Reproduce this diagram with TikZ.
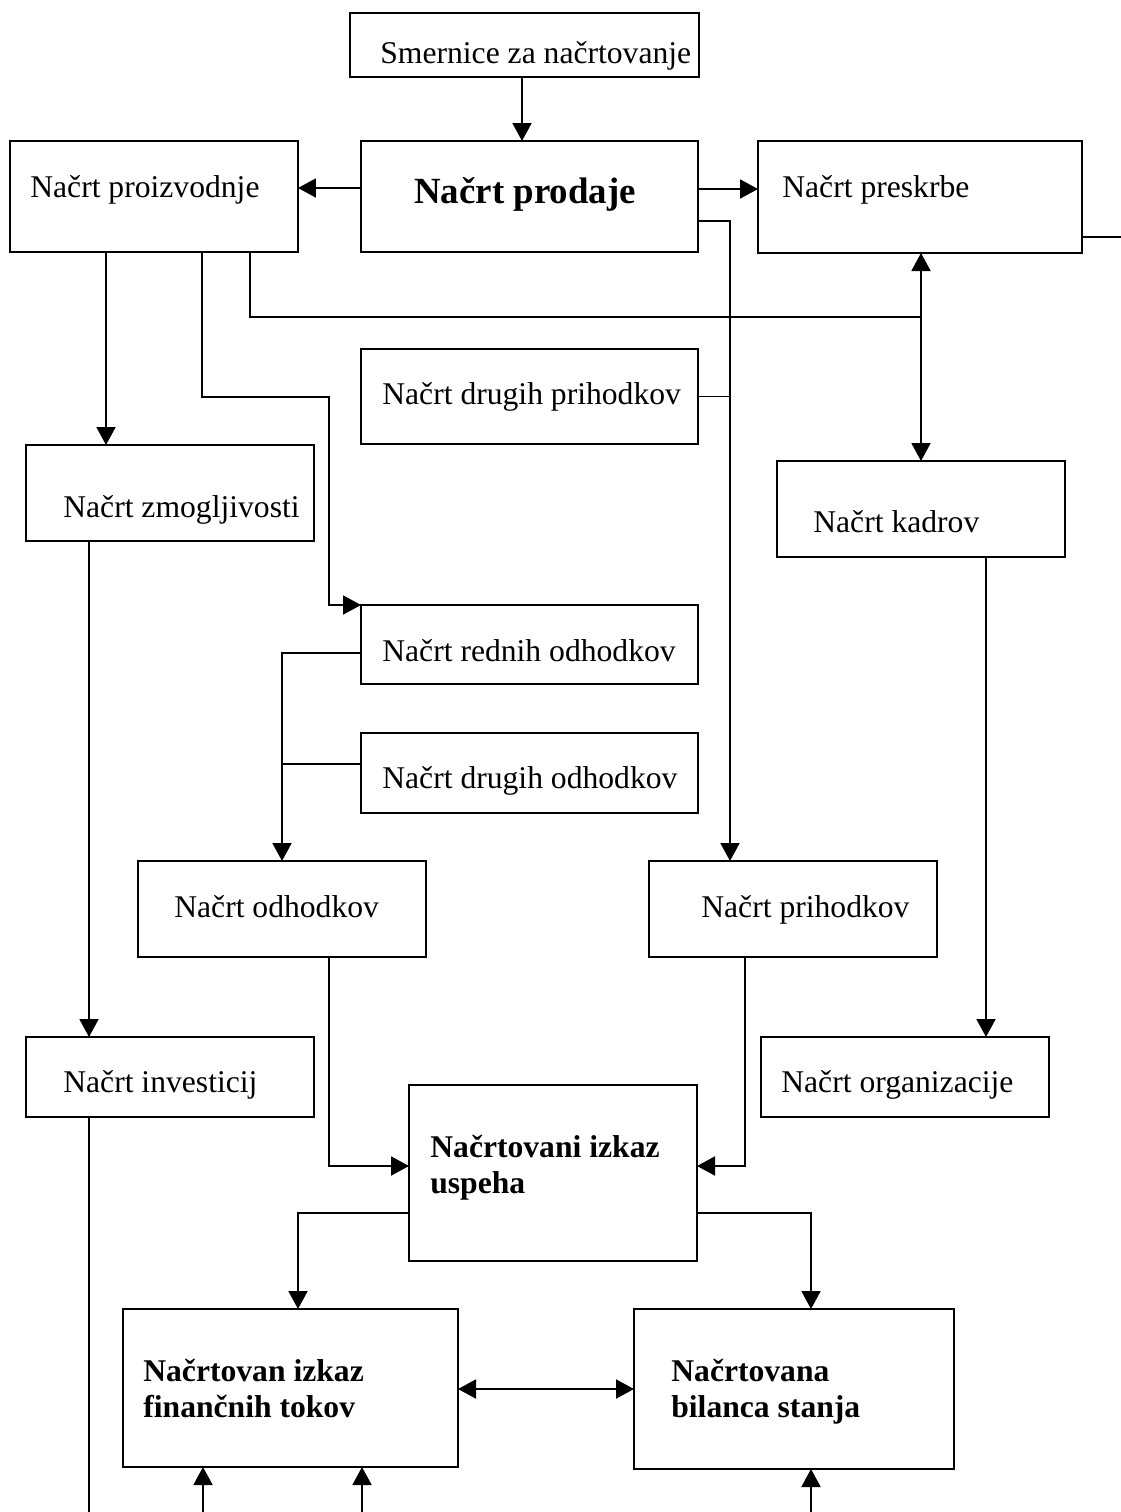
\documentclass[tikz,border=0pt]{standalone}
\usepackage{fontspec}
\setmainfont{Liberation Serif}
\usetikzlibrary{arrows.meta}

\tikzset{
  box/.style={draw, line width=1.1pt, anchor=north west, inner sep=0pt, outer sep=0pt},
  sz/.style 2 args={minimum width=#1*0.02cm, minimum height=#2*0.02cm},
  txt/.style={anchor=base west, inner sep=0pt, font=\fontsize{18}{20.5}\selectfont},
  btxt/.style={txt, font=\fontsize{18}{20.5}\selectfont\bfseries},
  conn/.style={line width=1.1pt},
  arr/.style={conn, -{Triangle[length=0.36cm, width=0.38cm]}},
  darr/.style={conn, {Triangle[length=0.36cm, width=0.38cm]}-{Triangle[length=0.36cm, width=0.38cm]}},
}

\begin{document}
\begin{tikzpicture}[x=0.02cm, y=-0.02cm]
  \useasboundingbox (0,0) rectangle (1121,1512);

  % boxes
  \node[box, sz={349}{64}]  (smer)   at (350,13)   {};
  \node[box, sz={288}{111}] (proiz)  at (10,141)   {};
  \node[box, sz={337}{111}] (prod)   at (361,141)  {};
  \node[box, sz={324}{112}] (presk)  at (758,141)  {};
  \node[box, sz={337}{95}]  (drprih) at (361,349)  {};
  \node[box, sz={288}{96}]  (zmog)   at (26,445)   {};
  \node[box, sz={288}{96}]  (kadr)   at (777,461)  {};
  \node[box, sz={337}{79}]  (redn)   at (361,605)  {};
  \node[box, sz={337}{80}]  (drodh)  at (361,733)  {};
  \node[box, sz={288}{96}]  (odh)    at (138,861)  {};
  \node[box, sz={288}{96}]  (prih)   at (649,861)  {};
  \node[box, sz={288}{80}]  (inv)    at (26,1037)  {};
  \node[box, sz={288}{80}]  (org)    at (761,1037) {};
  \node[box, sz={288}{176}] (usp)    at (409,1085) {};
  \node[box, sz={335}{158}] (fin)    at (123,1309) {};
  \node[box, sz={320}{160}] (bil)    at (634,1309) {};

  % texts
  \node[txt] (smer-t)   at (380,63)   {Smernice za načrtovanje};
  \node[txt] (proiz-t)  at (30,197)   {Načrt proizvodnje};
  \node[btxt, font=\fontsize{21}{24}\selectfont\bfseries] (prod-t) at (414,203) {Načrt prodaje};
  \node[txt] (presk-t)  at (782,197)  {Načrt preskrbe};
  \node[txt] (drprih-t) at (382,404)  {Načrt drugih prihodkov};
  \node[txt] (zmog-t)   at (63,517)   {Načrt zmogljivosti};
  \node[txt] (kadr-t)   at (813,532)  {Načrt kadrov};
  \node[txt] (redn-t)   at (382,661)  {Načrt rednih odhodkov};
  \node[txt] (drodh-t)  at (382,788)  {Načrt drugih odhodkov};
  \node[txt] (odh-t)    at (174,917)  {Načrt odhodkov};
  \node[txt] (prih-t)   at (701,917)  {Načrt prihodkov};
  \node[txt] (inv-t)    at (63,1092)  {Načrt investicij};
  \node[txt] (org-t)    at (781,1092) {Načrt organizacije};
  \node[btxt] (usp-t) at (430,1157) {\begin{tabular}[t]{@{}l@{}}Načrtovani izkaz\\uspeha\end{tabular}};
  \node[btxt] (fin-t) at (143,1381) {\begin{tabular}[t]{@{}l@{}}Načrtovan izkaz\\finančnih tokov\end{tabular}};
  \node[btxt] (bil-t) at (671,1381) {\begin{tabular}[t]{@{}l@{}}Načrtovana\\bilanca stanja\end{tabular}};

  % free ends at the page edge
  \coordinate (rt-end) at (1121,237);
  \coordinate (inv-end) at (89,1512);
  \coordinate (fin-a) at (203,1512);
  \coordinate (fin-b) at (362,1512);
  \coordinate (bil-a) at (811,1512);

  % connectors
  \draw[arr] (522,0 |- smer.south) -- (522,0 |- prod.north);
  \draw[arr] (prod.west |- 0,188) -- (proiz.east |- 0,188);
  \draw[arr] (prod.east |- 0,189) -- (presk.west |- 0,189);
  \draw[arr] (prod.east |- 0,221) -| (730,0 |- prih.north);
  \draw[conn] (drprih.east) -- (730,0 |- drprih.east);
  \draw[conn] (presk.east |- 0,237) -- (rt-end);

  \draw[arr] (106,0 |- proiz.south) -- (106,0 |- zmog.north);
  \draw[arr] (202,0 |- proiz.south) |- (329,397) |- (redn.north west);
  \draw[conn] (250,0 |- proiz.south) |- (921,317);
  \draw[darr] (921,0 |- presk.south) -- (921,0 |- kadr.north);

  \draw[arr] (89,0 |- zmog.south) -- (89,0 |- inv.north);
  \draw[arr] (redn.west |- 0,653) -| (282,0 |- odh.north);
  \draw[conn] (drodh.west |- 0,764) -- (282,764);
  \draw[arr] (986,0 |- kadr.south) -- (986,0 |- org.north);

  \draw[arr] (329,0 |- odh.south) |- (usp.west |- 0,1166);
  \draw[arr] (745,0 |- prih.south) |- (usp.east |- 0,1166);
  \draw[arr] (usp.west |- 0,1213) -| (298,0 |- fin.north);
  \draw[arr] (usp.east |- 0,1213) -| (811,0 |- bil.north);
  \draw[darr] (fin.east |- 0,1389) -- (bil.west |- 0,1389);

  \draw[conn] (89,0 |- inv.south) -- (inv-end);
  \draw[arr] (fin-a) -- (203,0 |- fin.south);
  \draw[arr] (fin-b) -- (362,0 |- fin.south);
  \draw[arr] (bil-a) -- (811,0 |- bil.south);
\end{tikzpicture}
\end{document}
